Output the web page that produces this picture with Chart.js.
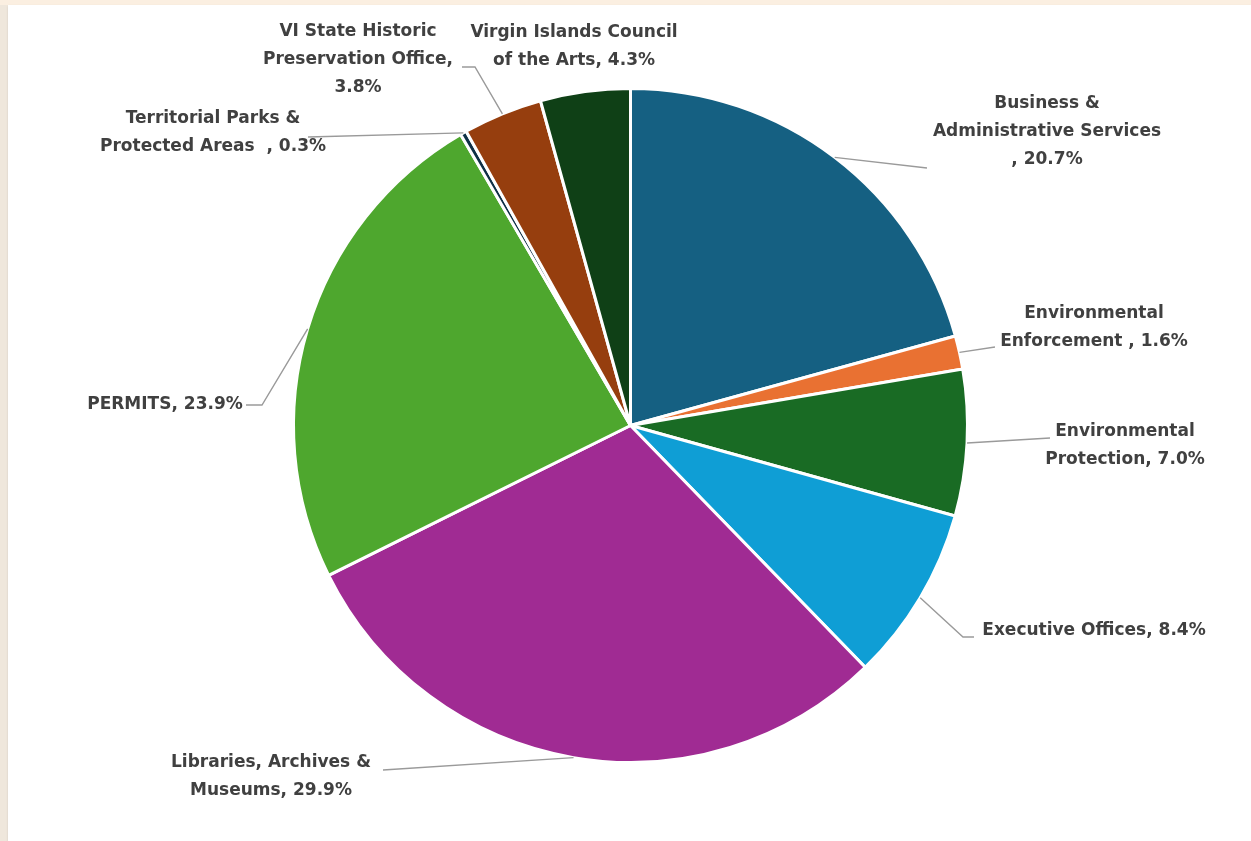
<!DOCTYPE html>
<html>
<head>
<meta charset="utf-8">
<script src="https://cdn.jsdelivr.net/npm/chart.js@4/dist/chart.umd.min.js"></script>
<style>
  html, body { margin: 0; padding: 0; width: 1251px; height: 841px; overflow: hidden; background: #efe7dc; }
  #topstrip { position: absolute; left: 0; top: 0; width: 1251px; height: 5px; background: #fbefe1; }
  #panel { position: absolute; left: 8px; top: 5px; width: 1243px; height: 836px; background: #ffffff; box-shadow: 0 1px 2px rgba(0,0,0,0.12); }
  #wrap { position: absolute; left: 0; top: 0; width: 1251px; height: 841px; }
</style>
</head>
<body>
<div id="topstrip"></div>
<div id="panel"></div>
<div id="wrap"><canvas id="c" width="1251" height="841"></canvas></div>
<script>
// ---- data ----
const categories = [
  "Business & Administrative Services",
  "Environmental Enforcement",
  "Environmental Protection",
  "Executive Offices",
  "Libraries, Archives & Museums",
  "PERMITS",
  "Territorial Parks & Protected Areas",
  "VI State Historic Preservation Office",
  "Virgin Islands Council of the Arts"
];
const values = [20.7, 1.6, 7.0, 8.4, 29.9, 23.9, 0.3, 3.8, 4.3];
const colors = ["#156082", "#E97132", "#196B24", "#0F9ED5", "#A02B93", "#4EA72E", "#0E3046", "#963E0E", "#0F4016"];
// label text lines ({v} = percentage value)
const labelLines = [
  ["Business &", "Administrative Services", ", {v}%"],
  ["Environmental", "Enforcement , {v}%"],
  ["Environmental", "Protection, {v}%"],
  ["Executive Offices, {v}%"],
  ["Libraries, Archives &", "Museums, {v}%"],
  ["PERMITS, {v}%"],
  ["Territorial Parks &", "Protected Areas  , {v}%"],
  ["VI State Historic", "Preservation Office,", "{v}%"],
  ["Virgin Islands Council", "of the Arts, {v}%"]
];

// ---- label layout (pixel positions of label blocks and leader elbows) ----
const labelLayout = [
  { cx: 1047, y: 104, leader: [[927, 168]] },
  { cx: 1094, y: 314, leader: [[995, 347]] },
  { cx: 1125, y: 432, leader: [[1050, 438]] },
  { cx: 1094, y: 631, leader: [[963, 637], [974, 637]] },
  { cx: 271,  y: 763, leader: [[383, 770]] },
  { cx: 165,  y: 405, leader: [[262, 405], [246, 405]] },
  { cx: 213,  y: 119, leader: [[308, 137]] },
  { cx: 358,  y: 32,  leader: [[475, 67], [462, 67]] },
  { cx: 574,  y: 33,  leader: null }
];
const LINE_H = 28;
const FONT = "bold 17px 'DejaVu Sans', sans-serif";

const labelPlugin = {
  id: 'leaderLabels',
  afterDatasetsDraw(chart) {
    const ctx = chart.ctx;
    const meta = chart.getDatasetMeta(0);
    ctx.save();
    meta.data.forEach((arc, i) => {
      const lay = labelLayout[i];
      const p = arc.getProps(['x', 'y', 'startAngle', 'endAngle', 'outerRadius'], true);
      const mid = (p.startAngle + p.endAngle) / 2;
      if (lay.leader) {
        ctx.beginPath();
        ctx.strokeStyle = '#9a9a9a';
        ctx.lineWidth = 1.4;
        ctx.moveTo(p.x + Math.cos(mid) * p.outerRadius, p.y + Math.sin(mid) * p.outerRadius);
        lay.leader.forEach(pt => ctx.lineTo(pt[0], pt[1]));
        ctx.stroke();
      }
      ctx.fillStyle = '#404040';
      ctx.font = FONT;
      ctx.textAlign = 'center';
      ctx.textBaseline = 'middle';
      labelLines[i].forEach((ln, k) => {
        ctx.fillText(ln.replace('{v}', values[i].toFixed(1)), lay.cx, lay.y + k * LINE_H);
      });
    });
    ctx.restore();
  }
};

new Chart(document.getElementById('c'), {
  type: 'pie',
  data: {
    labels: categories,
    datasets: [{
      data: values,
      backgroundColor: colors,
      borderColor: '#ffffff',
      borderWidth: 3
    }]
  },
  options: {
    responsive: false,
    animation: false,
    events: [],
    layout: { padding: { left: 292, right: 282, top: 87, bottom: 77 } },
    plugins: { legend: { display: false }, tooltip: { enabled: false } }
  },
  plugins: [labelPlugin]
});
</script>
</body>
</html>
